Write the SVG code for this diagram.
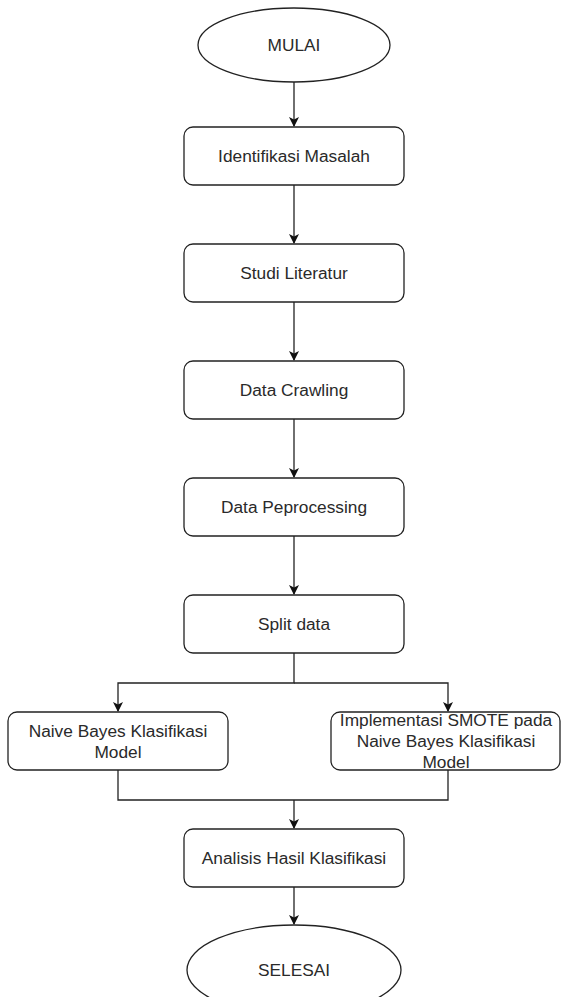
<svg xmlns="http://www.w3.org/2000/svg" width="562" height="997" viewBox="0 0 562 997">
<defs>
<style>
.n{fill:#fff;stroke:#222;stroke-width:1.3}
.t{font-family:"Liberation Sans",Arial,sans-serif;font-size:17.3px;fill:#2a2a2a;text-anchor:middle}
.c{fill:none;stroke:#222;stroke-width:1.3}
</style>
<marker id="ah" viewBox="0 0 10 10" refX="9" refY="5" markerWidth="10" markerHeight="10" markerUnits="userSpaceOnUse" orient="auto">
<path d="M0,0 L10,5 L0,10 L2.5,5 Z" fill="#111"/>
</marker>
</defs>
<rect width="562" height="997" fill="#fff"/>
<g id="connectors">
<path class="c" d="M294,82 V126" marker-end="url(#ah)"/>
<path class="c" d="M294,185 V243" marker-end="url(#ah)"/>
<path class="c" d="M294,302 V360" marker-end="url(#ah)"/>
<path class="c" d="M294,419 V477" marker-end="url(#ah)"/>
<path class="c" d="M294,536 V594" marker-end="url(#ah)"/>
<path class="c" d="M294,653 V683 H118 V711" marker-end="url(#ah)"/>
<path class="c" d="M294,683 H448 V711" marker-end="url(#ah)"/>
<path class="c" d="M118,770 V800 H448 V770"/>
<path class="c" d="M294,800 V828" marker-end="url(#ah)"/>
<path class="c" d="M294,887 V924" marker-end="url(#ah)"/>
</g>
<g id="mulai">
<ellipse class="n" cx="294" cy="45" rx="96" ry="37"/>
<text class="t" x="294" y="51">MULAI</text>
</g>
<g id="identifikasi">
<rect class="n" x="184" y="127" width="220" height="58" rx="9"/>
<text class="t" x="294" y="162">Identifikasi Masalah</text>
</g>
<g id="studi">
<rect class="n" x="184" y="244" width="220" height="58" rx="9"/>
<text class="t" x="294" y="279">Studi Literatur</text>
</g>
<g id="crawling">
<rect class="n" x="184" y="361" width="220" height="58" rx="9"/>
<text class="t" x="294" y="396">Data Crawling</text>
</g>
<g id="preprocessing">
<rect class="n" x="184" y="478" width="220" height="58" rx="9"/>
<text class="t" x="294" y="513">Data Peprocessing</text>
</g>
<g id="split">
<rect class="n" x="184" y="595" width="220" height="58" rx="9"/>
<text class="t" x="294" y="630">Split data</text>
</g>
<g id="naive">
<rect class="n" x="8" y="712" width="220" height="58" rx="9"/>
<text class="t" x="118" y="737">Naive Bayes Klasifikasi</text>
<text class="t" x="118" y="758">Model</text>
</g>
<g id="smote">
<rect class="n" x="331" y="712" width="229" height="58" rx="9"/>
<text class="t" x="446" y="726">Implementasi SMOTE pada</text>
<text class="t" x="446" y="747">Naive Bayes Klasifikasi</text>
<text class="t" x="446" y="768">Model</text>
</g>
<g id="analisis">
<rect class="n" x="184" y="829" width="220" height="58" rx="9"/>
<text class="t" x="294" y="864">Analisis Hasil Klasifikasi</text>
</g>
<g id="selesai">
<ellipse class="n" cx="294" cy="970" rx="107" ry="45"/>
<text class="t" x="294" y="976">SELESAI</text>
</g>
</svg>
